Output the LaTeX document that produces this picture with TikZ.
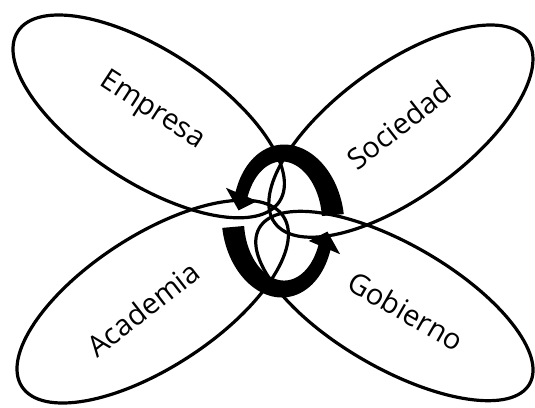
\documentclass[tikz,border=0pt]{standalone}
\usepackage{fontspec}
\setmainfont{Open Sans}
\usetikzlibrary{shapes.geometric}
\tikzset{
  petal/.style={draw=black, line width=3.2pt, ellipse, inner sep=0pt, fill=none},
  lbl/.style={font=\fontsize{29}{34}\selectfont, inner sep=0pt}
}
% #1 tail angle, #2 head base angle, #3 tip angle
\newcommand{\cycarrow}[3]{%
\fill[black]
 plot[domain=#1:#2,samples=50,variable=\t]
   ({283+(50-5*(\t-#1)/(#2-#1)+11-4.5*(\t-#1)/(#2-#1))*cos(\t)},
    {221-(68+11-4.5*(\t-#1)/(#2-#1))*sin(\t)})
 -- ({283+62*cos(#2)},{221-85*sin(#2)})
 -- ({283+45*cos(#3)},{221-68*sin(#3)})
 -- ({283+28*cos(#2)},{221-51*sin(#2)})
 -- plot[domain=#2:#1,samples=50,variable=\t]
   ({283+(50-5*(\t-#1)/(#2-#1)-11+4.5*(\t-#1)/(#2-#1))*cos(\t)},
    {221-(68-11+4.5*(\t-#1)/(#2-#1))*sin(\t)})
 -- cycle;}
\begin{document}
\begin{tikzpicture}[x=1pt,y=-1pt]
\useasboundingbox (0,0) rectangle (535,407);
\begin{scope}
\clip (0,0) rectangle (535,407);
\node[petal, minimum width=312pt, minimum height=132pt, rotate=-33] (empresa) at (148.7,116.4) {};
\node[petal, minimum width=312pt, minimum height=132pt, rotate=36] (sociedad) at (400.9,131.1) {};
\node[petal, minimum width=312pt, minimum height=132pt, rotate=33] (academia) at (152.7,301.6) {};
\node[petal, minimum width=312pt, minimum height=124pt, rotate=-30] (gobierno) at (394.4,306) {};
\end{scope}
\node[lbl, rotate=-33] (tempresa) at (152,111) {Empresa};
\node[lbl, rotate=38] (tsociedad) at (399,125) {Sociedad};
\node[lbl, rotate=38] (tacademia) at (143,309) {Academia};
\node[lbl, rotate=-30] (tgobierno) at (406,311) {Gobierno};
\cycarrow{5}{157}{171}
\cycarrow{185}{337}{351}
\end{tikzpicture}
\end{document}
